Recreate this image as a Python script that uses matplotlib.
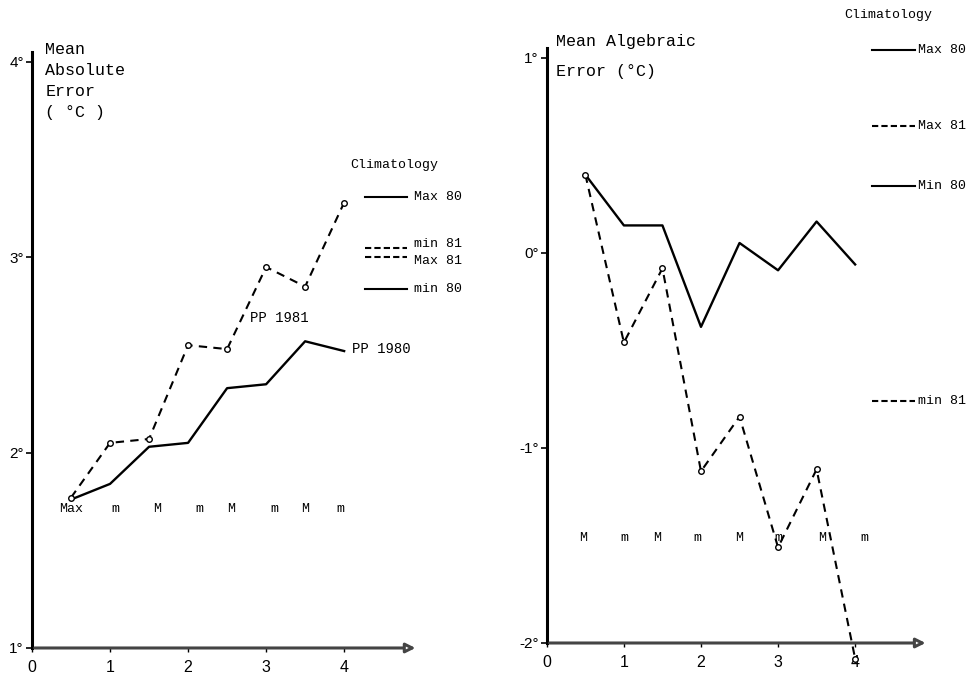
import matplotlib
matplotlib.use("Agg")
import matplotlib.pyplot as plt

MONO = "Liberation Mono"
SANS = "Liberation Sans"

# lead times (days) and forecast types
lead = [0.5, 1.0, 1.5, 2.0, 2.5, 3.0, 3.5, 4.0]

# left panel: mean absolute error
abs_pp1980 = [1.76, 1.84, 2.03, 2.05, 2.33, 2.35, 2.57, 2.52]
abs_pp1981 = [1.77, 2.05, 2.07, 2.55, 2.53, 2.95, 2.85, 3.28]
abs_types = ["Max", "m", "M", "m", "M", "m", "M", "m"]
abs_type_x = [0.5, 1.07, 1.6, 2.15, 2.55, 3.1, 3.5, 3.95]
abs_clim_names = ["Max 80", "min 81", "Max 81", "min 80"]
abs_clim_vals = [3.31, 3.05, 3.00, 2.84]
abs_clim_dashed = [False, True, True, False]

# right panel: mean algebraic error
alg_pp1980 = [0.40, 0.14, 0.14, -0.38, 0.05, -0.09, 0.16, -0.06]
alg_pp1981 = [0.40, -0.46, -0.08, -1.12, -0.84, -1.51, -1.11, -2.08]
alg_types = ["M", "m", "M", "m", "M", "m", "M", "m"]
alg_type_x = [0.47, 1.01, 1.43, 1.96, 2.49, 3.0, 3.57, 4.12]
alg_clim_names = ["Max 80", "Max 81", "Min 80", "min 81"]
alg_clim_vals = [1.04, 0.65, 0.34, -0.76]
alg_clim_dashed = [False, True, False, True]

fig = plt.figure(figsize=(9.73, 6.74), dpi=100)
ax1 = fig.add_axes([0.0329, 0.0386, 0.409, 0.884])
ax2 = fig.add_axes([0.562, 0.046, 0.404, 0.883])


def style_axis(ax, ymin, ymax, yticks, ylabels):
    ax.set_xlim(0, 5.1)
    ax.set_ylim(ymin, ymax)
    for s in ["top", "right", "bottom"]:
        ax.spines[s].set_visible(False)
    ax.spines["left"].set_linewidth(2.2)
    ax.spines["left"].set_bounds(ymin, ymax)
    ax.set_yticks(yticks)
    ax.set_yticklabels(ylabels, fontfamily=SANS, fontsize=11)
    ax.set_xticks([0, 1, 2, 3, 4])
    ax.set_xticklabels(["0", "1", "2", "3", "4"], fontfamily=SANS, fontsize=11.5)
    ax.tick_params(axis="y", length=4, width=1.2, pad=2)
    ax.tick_params(axis="x", length=3, width=1.0, pad=6)
    ax.annotate("", xy=(4.95, ymin), xytext=(0, ymin), xycoords="data",
                arrowprops=dict(arrowstyle="-|>", lw=2.2, color="#444444",
                                fc="white", mutation_scale=14),
                annotation_clip=False)


style_axis(ax1, 1, 4.05, [1, 2, 3, 4], ["1°", "2°", "3°", "4°"])
style_axis(ax2, -2, 1.05, [-2, -1, 0, 1], ["-2°", "-1°", "0°", "1°"])

# left panel
ax1.plot(lead, abs_pp1980, color="black", lw=1.7)
ax1.plot(lead, abs_pp1981, color="black", lw=1.5, ls=(0, (4, 3)),
         marker="o", ms=4, mfc="white", mec="black", mew=1)
for x, t in zip(abs_type_x, abs_types):
    ax1.text(x, 1.71, t, fontfamily=MONO, fontsize=9.5, ha="center", va="center")
ax1.text(2.8, 2.69, "PP 1981", fontfamily=MONO, fontsize=10, va="center")
ax1.text(4.1, 2.53, "PP 1980", fontfamily=MONO, fontsize=10, va="center")
ax1.text(0.17, 4.1, "Mean\nAbsolute\nError\n( °C )", fontfamily=MONO,
         fontsize=12, va="top", linespacing=1.5)
ax1.text(4.08, 3.47, "Climatology", fontfamily=MONO, fontsize=9.5, va="center")
# nudge the two close labels apart a little so they stay readable
label_nudge = [0, 0.018, -0.018, 0]
for name, val, dashed, dy in zip(abs_clim_names, abs_clim_vals,
                                 abs_clim_dashed, label_nudge):
    ax1.plot([4.27, 4.8], [val, val], color="black", lw=1.5,
             ls=(0, (3, 1.5)) if dashed else "-", clip_on=False)
    ax1.text(4.9, val + dy, name, fontfamily=MONO, fontsize=9.5, va="center")

# right panel
ax2.plot(lead, alg_pp1980, color="black", lw=1.7)
ax2.plot(lead, alg_pp1981, color="black", lw=1.5, ls=(0, (4, 3)),
         marker="o", ms=4, mfc="white", mec="black", mew=1, clip_on=False)
for x, t in zip(alg_type_x, alg_types):
    ax2.text(x, -1.46, t, fontfamily=MONO, fontsize=9.5, ha="center", va="center")
ax2.text(0.12, 1.12, "Mean Algebraic\nError (°C)", fontfamily=MONO,
         fontsize=12, va="top", linespacing=2.2)
ax2.text(3.86, 1.22, "Climatology", fontfamily=MONO, fontsize=9.5, va="center")
for name, val, dashed in zip(alg_clim_names, alg_clim_vals, alg_clim_dashed):
    ax2.plot([4.22, 4.78], [val, val], color="black", lw=1.5,
             ls=(0, (3, 1.5)) if dashed else "-", clip_on=False)
    ax2.text(4.82, val, name, fontfamily=MONO, fontsize=9.5, va="center")

fig.savefig("out.png", dpi=100)
